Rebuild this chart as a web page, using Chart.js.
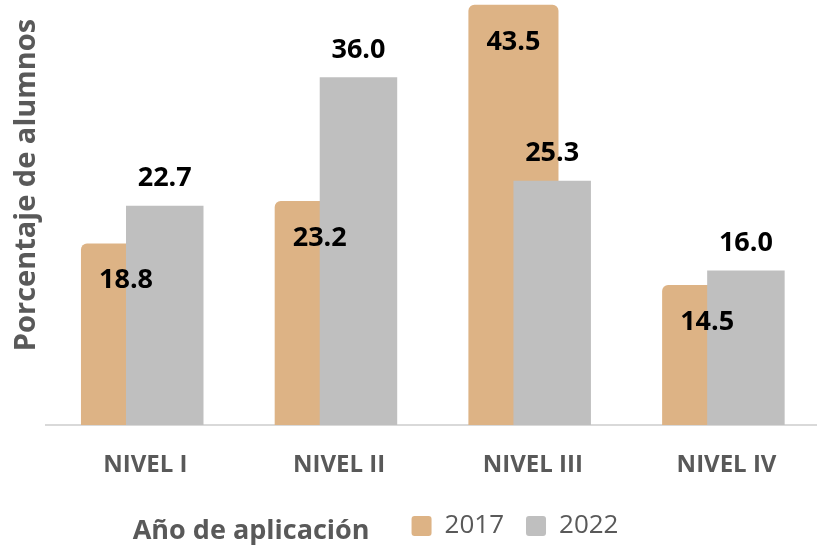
<!DOCTYPE html>
<html lang="es">
<head>
<meta charset="utf-8">
<title>Porcentaje de alumnos por nivel</title>
<script src="https://cdn.jsdelivr.net/npm/chart.js@4.4.1/dist/chart.umd.min.js"></script>
<style>
  html, body { margin: 0; padding: 0; background: #fff; }
  #wrap { width: 817px; height: 545px; position: relative; }
</style>
</head>
<body>
<div id="wrap"><canvas id="chart"></canvas></div>
<script>
// Values
const levels = ['NIVEL I', 'NIVEL II', 'NIVEL III', 'NIVEL IV'];
const years = ['2017', '2022'];
const values2017 = [18.8, 23.2, 43.5, 14.5];
const values2022 = [22.7, 36.0, 25.3, 16.0];
const yTitle = 'Porcentaje de alumnos';
const legendTitle = 'Año de aplicación';

const ORANGE = '#DDB385';
const GRAY = '#BFBFBF';
const TEXT = '#595959';
const FONT = '"Open Sans", "Liberation Sans", sans-serif';

// the 2022 bar sits half a bar to the right of the 2017 one
const SHIFT = 0.1;
const X_MIN = -0.513;
const X_MAX = 3.467;

// only one tick per level, so the bar ruler uses the level spacing
function levelTicks(scale) {
  scale.ticks = levels.map((lbl, i) => ({ value: i }));
}

/**
 * Numbers on the bars: 2017 inside near the top, 2022 above the bar.
 */
const valueLabels = {
  id: 'valueLabels',
  afterDatasetsDraw(chart) {
    const ctx = chart.ctx;
    ctx.save();
    ctx.font = 'bold 27px ' + FONT;
    ctx.fillStyle = '#000';
    ctx.textAlign = 'center';
    ctx.textBaseline = 'middle';
    chart.data.datasets.forEach((ds, di) => {
      chart.getDatasetMeta(di).data.forEach((bar, i) => {
        const txt = ds.data[i].y.toFixed(1);
        const y = di === 0 ? bar.y + 37 : bar.y - 27;
        ctx.fillText(txt, bar.x, y);
      });
    });
    ctx.restore();
  }
};

/**
 * Rotated y title and the bold title in front of the legend.
 */
const titles = {
  id: 'titles',
  afterDraw(chart) {
    const ctx = chart.ctx;
    ctx.save();
    ctx.fillStyle = TEXT;
    ctx.font = 'bold 29px ' + FONT;
    ctx.textAlign = 'center';
    ctx.textBaseline = 'alphabetic';
    ctx.translate(35, 185);
    ctx.rotate(-Math.PI / 2);
    ctx.fillText(yTitle, 0, 0);
    ctx.restore();

    const boxes = chart.legend && chart.legend.legendHitBoxes;
    if (boxes && boxes[1]) {
      const first = boxes[1];
      ctx.save();
      ctx.fillStyle = TEXT;
      ctx.font = 'bold 27px ' + FONT;
      ctx.textAlign = 'right';
      ctx.textBaseline = 'middle';
      ctx.fillText(legendTitle, first.left - 42, first.top + first.height / 2 + 5);
      ctx.restore();
    }
  }
};

const clear = 'rgba(0,0,0,0)';
function spacer(text) {
  return { text, fillStyle: clear, strokeStyle: clear, fontColor: clear, lineWidth: 0, hidden: false };
}

new Chart(document.getElementById('chart'), {
  type: 'bar',
  data: {
    datasets: [
      {
        label: years[0],
        data: values2017.map((v, i) => ({ x: i - SHIFT, y: v })),
        xAxisID: 'x',
        grouped: false,
        backgroundColor: ORANGE,
        borderWidth: 0,
        borderRadius: { topLeft: 6, topRight: 6, bottomLeft: 0, bottomRight: 0 },
        borderSkipped: false,
        categoryPercentage: 1,
        barPercentage: 0.465,
        order: 2
      },
      {
        label: years[1],
        data: values2022.map((v, i) => ({ x: i + SHIFT, y: v })),
        xAxisID: 'x2',
        grouped: false,
        backgroundColor: GRAY,
        borderWidth: 0,
        categoryPercentage: 1,
        barPercentage: 0.40,
        order: 1
      }
    ]
  },
  options: {
    responsive: true,
    maintainAspectRatio: false,
    animation: false,
    layout: { padding: { top: 0, left: 0, right: 0, bottom: -4 } },
    plugins: {
      tooltip: { enabled: false },
      legend: {
        position: 'bottom',
        onClick: null,
        labels: {
          color: TEXT,
          font: { family: FONT, size: 26 },
          boxWidth: 20,
          boxHeight: 20,
          useBorderRadius: true,
          borderRadius: 3,
          padding: 22,
          generateLabels(chart) {
            const items = Chart.defaults.plugins.legend.labels.generateLabels(chart);
            items.sort((a, b) => a.datasetIndex - b.datasetIndex);
            return [spacer(legendTitle), ...items, spacer('')];
          }
        }
      }
    },
    scales: {
      x: {
        type: 'linear',
        min: X_MIN,
        max: X_MAX,
        offset: false,
        afterBuildTicks: levelTicks,
        afterFit(scale) { scale.height = 66; },
        grid: { display: false, drawTicks: false },
        border: { display: true, color: '#D9D9D9', width: 2 },
        ticks: {
          autoSkip: false,
          maxRotation: 0,
          padding: 26,
          color: TEXT,
          font: { family: FONT, size: 24, weight: 'bold' },
          callback: (v) => levels[v]
        }
      },
      x2: {
        type: 'linear',
        display: false,
        min: X_MIN,
        max: X_MAX,
        offset: false,
        afterBuildTicks: levelTicks
      },
      y: {
        min: 0,
        max: 44,
        afterFit(scale) { scale.width = 46; },
        grid: { display: false },
        border: { display: false },
        ticks: { display: false }
      }
    }
  },
  plugins: [valueLabels, titles]
});
</script>
</body>
</html>
